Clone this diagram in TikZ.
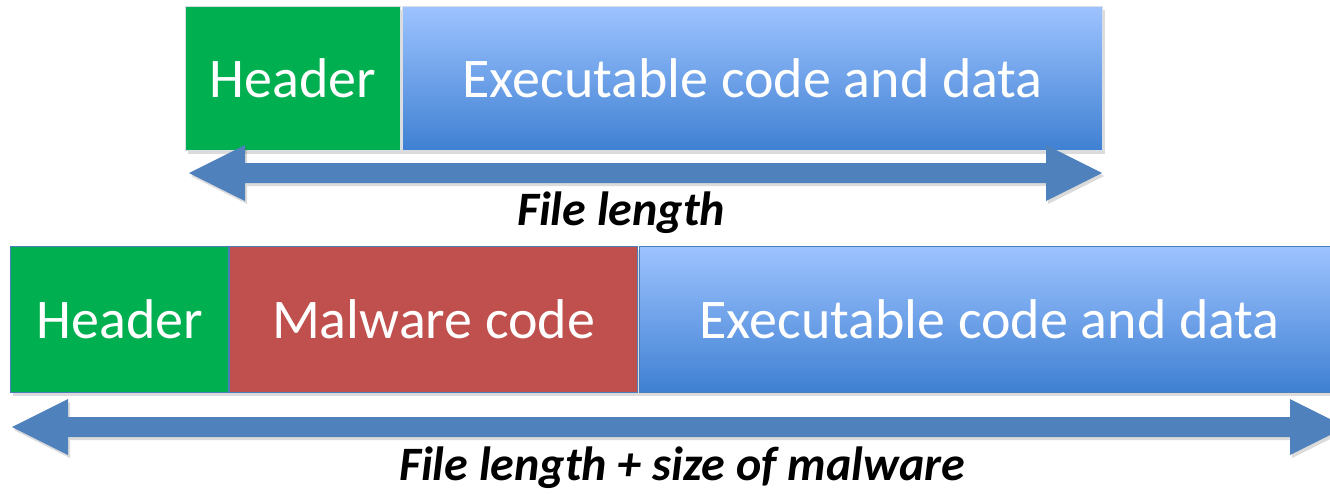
\documentclass[tikz,border=0pt]{standalone}
\usepackage{fontspec}
\setmainfont{Carlito}
\newdimen\pxu
\pxu=0.75pt
\begin{document}
\begin{tikzpicture}[x=0.75pt,y=-0.75pt,
  box/.style={draw=#1, line width=1pt, anchor=north west, inner sep=0pt},
  hdr/.style={box=#1, fill=hdrgreen},
  mal/.style={box=#1, fill=malred},
  exe/.style={box=#1, top color=exetop, bottom color=exebot},
  label/.style={text=white, font=\fontsize{42}{48}\selectfont},
  shade/.style={fill=black, opacity=0.14},
  caption/.style={font=\fontsize{36}{42}\selectfont\bfseries\itshape, text=black},
  barrow/.style={fill=arrowblue}]
\definecolor{hdrgreen}{HTML}{00B050}
\definecolor{malred}{HTML}{C0504D}
\definecolor{exetop}{HTML}{9DC3FF}
\definecolor{exebot}{HTML}{3F80D2}
\definecolor{arrowblue}{HTML}{4F81BD}
\definecolor{edgeblue}{HTML}{4A7EBB}
\definecolor{edgelight}{HTML}{D9DEE6}

\useasboundingbox (0,0) rectangle (1330,494);
\clip (0,0) rectangle (1330,494);

% double-headed length arrow from x=#1 to x=#2 at height #3
\newcommand{\lenarrow}[3]{%
  \fill[shade] (#1+2,#3+3) -- (#1+58,#3-25) -- (#1+58,#3-7) -- (#2-54,#3-7)
    -- (#2-54,#3-25) -- (#2+2,#3+3) -- (#2-54,#3+31) -- (#2-54,#3+13)
    -- (#1+58,#3+13) -- (#1+58,#3+31) -- cycle;
  \fill[barrow] (#1,#3) -- (#1+56,#3-28) -- (#1+56,#3-10) -- (#2-56,#3-10)
    -- (#2-56,#3-28) -- (#2,#3) -- (#2-56,#3+28) -- (#2-56,#3+10)
    -- (#1+56,#3+10) -- (#1+56,#3+28) -- cycle;}

% ---- original file ----
\fill[shade] (188,10) rectangle (1105,154);
\node[hdr=edgelight, minimum width=215\pxu, minimum height=144\pxu] (hdrA) at (185,6) {};
\node[label] (hdrAt) at (hdrA.center) {Header};
\node[exe=edgelight, minimum width=700\pxu, minimum height=144\pxu] (exeA) at (402,6) {};
\node[label] (exeAt) at (exeA.center) {Executable code and data};
\lenarrow{189}{1102}{173}
\node[caption] (capA) at (621,213) {File length};

% ---- infected file ----
\fill[shade] (13,250) rectangle (1340,396);
\node[hdr=edgeblue, minimum width=218\pxu, minimum height=146\pxu] (hdrB) at (10,246) {};
\node[label] (hdrBt) at (hdrB.center) {Header};
\node[mal=edgeblue, minimum width=408\pxu, minimum height=146\pxu] (malB) at (229,246) {};
\node[label] (malBt) at (malB.center) {Malware code};
\node[exe=edgeblue, minimum width=700\pxu, minimum height=146\pxu] (exeB) at (639,246) {};
\node[label] (exeBt) at (exeB.center) {Executable code and data};
\lenarrow{12}{1346}{427}
\node[caption] (capB) at (682,468) {File length + size of malware};
\end{tikzpicture}
\end{document}
